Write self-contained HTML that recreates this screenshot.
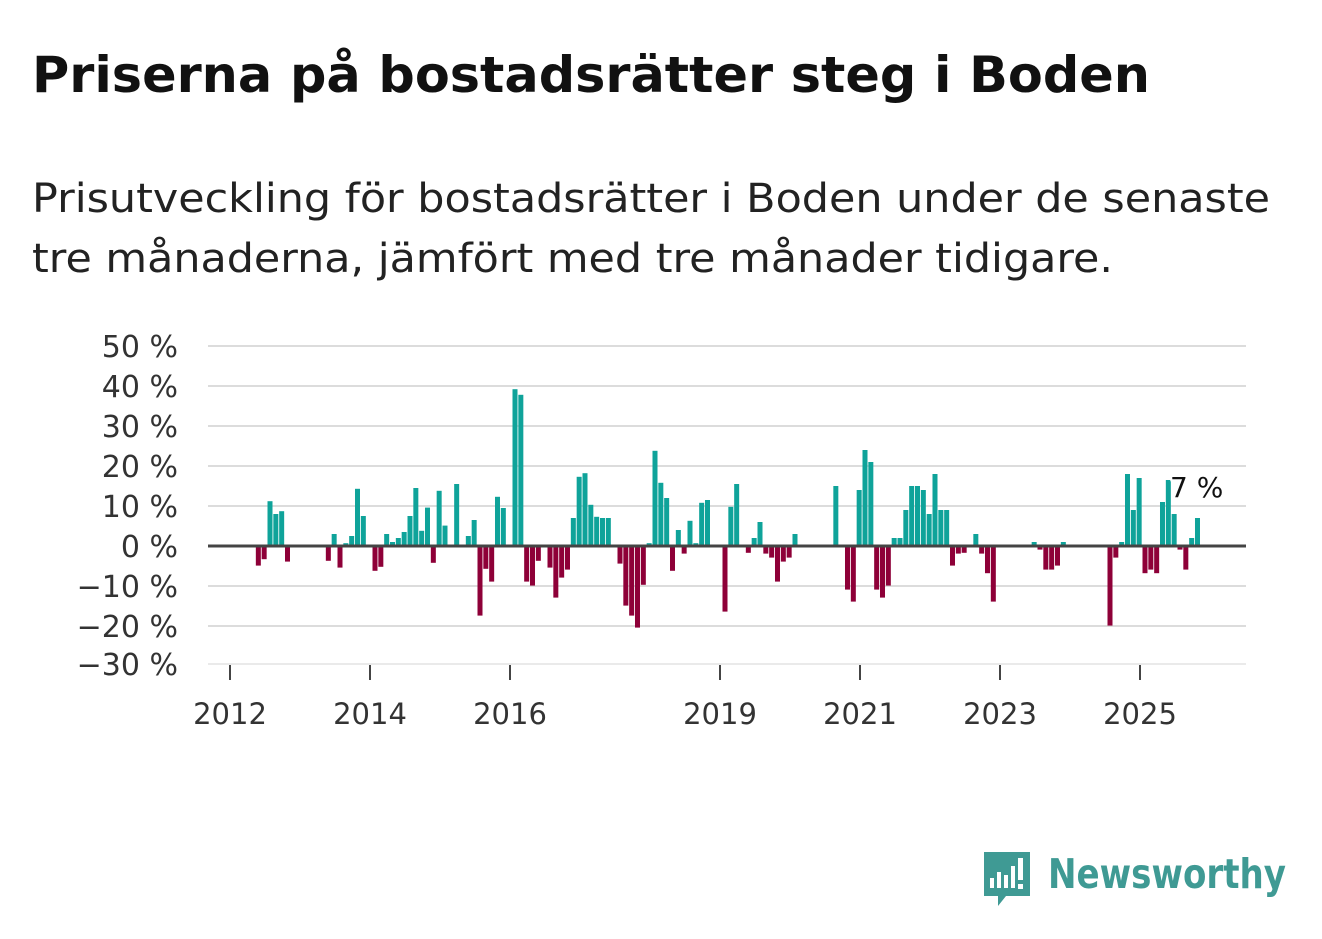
<!DOCTYPE html>
<html><head><meta charset="utf-8"><style>
body{margin:0;background:#fff;width:1322px;height:939px;overflow:hidden;font-family:"DejaVu Sans","Liberation Sans",sans-serif;}
svg{position:absolute;left:0;top:0;}
</style></head><body>
<svg width="1322" height="939" font-family="DejaVu Sans, Liberation Sans, sans-serif">
<text x="32" y="92" font-size="50" font-weight="bold" fill="#111" textLength="1118" lengthAdjust="spacingAndGlyphs">Priserna på bostadsrätter steg i Boden</text>
<text x="32" y="212" font-size="40" fill="#222" textLength="1238" lengthAdjust="spacingAndGlyphs">Prisutveckling för bostadsrätter i Boden under de senaste</text>
<text x="32" y="272" font-size="40" fill="#222" textLength="1081" lengthAdjust="spacingAndGlyphs">tre månaderna, jämfört med tre månader tidigare.</text>
</svg>
<svg id="chart" width="1322" height="939" font-family="DejaVu Sans, Liberation Sans, sans-serif"></svg>
<script>
const yTicks=[50,40,30,20,10,0,-10,-20,-30];
const xYears=[2012,2014,2016,2019,2021,2023,2025];
const barMonths=[4,5,6,7,8,9,16,17,18,19,20,21,22,24,25,26,27,28,29,30,31,32,33,34,35,36,38,40,41,42,43,44,45,46,48,49,50,51,52,54,55,56,57,58,59,60,61,62,63,64,66,67,68,69,70,71,72,73,74,75,76,77,78,79,80,81,84,85,86,88,89,90,91,92,93,94,95,96,103,105,106,107,108,109,110,111,112,113,114,115,116,117,118,119,120,121,122,123,124,125,127,128,129,130,137,138,139,140,141,142,150,151,152,153,154,155,156,157,158,159,160,161,162,163,164,165];
const barValues=[-4.9,-3.3,11.2,8,8.7,-3.9,-3.7,3,-5.4,0.7,2.5,14.3,7.5,-6.2,-5.2,3,1,2,3.5,7.5,14.5,3.8,9.6,-4.2,13.8,5.1,15.5,2.5,6.5,-17.4,-5.7,-8.9,12.3,9.5,39.2,37.8,-8.9,-9.9,-3.7,-5.4,-12.9,-7.9,-5.9,7,17.3,18.2,10.3,7.3,7,7,-4.4,-14.9,-17.4,-20.4,-9.7,0.7,23.8,15.8,12,-6.2,4,-1.9,6.3,0.7,10.8,11.5,-16.4,9.8,15.5,-1.7,2,6,-1.9,-2.9,-8.9,-3.9,-2.9,3,15,-10.9,-13.9,14,24,21,-10.9,-12.9,-9.9,2,2,9,15,15,14,8,18,9,9,-4.9,-1.9,-1.7,3,-1.9,-6.8,-13.9,1,-0.9,-5.9,-5.9,-4.9,1,-19.9,-2.9,1,18,9,17,-6.8,-5.9,-6.8,11,16.5,8,-0.9,-5.9,2,7];
const lastLabel="7 %";
const svg=document.getElementById('chart');
const NS='http://www.w3.org/2000/svg';
function y(v){return 546-v*4;}
function xm(m){return 230+m*5.8333;}
function xYear(yr){return 230+(yr-2012)*70;}
function mk(t,a){const e=document.createElementNS(NS,t);for(const k in a)e.setAttribute(k,a[k]);svg.appendChild(e);return e;}
yTicks.forEach(v=>{
  if(v!==0&&v!==-30){const g=mk('line',{x1:208,x2:1246,y1:y(v),y2:y(v),stroke:'#dcdcdc','stroke-width':2});
  
  }
  const t=mk('text',{x:178,y:Math.min(y(v),664)+11,'text-anchor':'end','font-size':30,fill:'#333'});
  t.textContent=(v<0?'\u2212'+(-v):v)+' %';
  
  
});
const bl=mk('line',{x1:208,x2:1246,y1:664,y2:664,stroke:'#e3e3e3','stroke-width':1.5});


xYears.forEach(yr=>{
  const tk=mk('line',{x1:xYear(yr),x2:xYear(yr),y1:665,y2:680,stroke:'#444','stroke-width':2});
  
  
  const t=mk('text',{x:xYear(yr),y:724,'text-anchor':'middle','font-size':29,fill:'#333'});
  t.textContent=yr;
  
  
});
barMonths.forEach((m,i)=>{
  const v=barValues[i];
  const r=mk('rect',{x:xm(m)+2.5,width:5,y:Math.min(y(v),546),height:Math.abs(y(v)-546),fill:v>=0?'#0fa39a':'#8e0038'});
  
  
});
const zl=mk('line',{x1:208,x2:1246,y1:546,y2:546,stroke:'#444','stroke-width':3});


const ll=mk('text',{x:1170,y:497,'font-size':28,fill:'#111',stroke:'#fff','stroke-width':4,'paint-order':'stroke'});
ll.textContent=lastLabel;


</script>
<svg width="1322" height="939" style="pointer-events:none">
<path d="M984 852 h46 v44 h-24 l-8 10 v-10 h-14 z" fill="#3f9a94"/>
<rect x="990" y="878" width="4" height="10" fill="#fff"/><rect x="997" y="872" width="4" height="16" fill="#fff"/>
<rect x="1004" y="875" width="4" height="13" fill="#fff"/><rect x="1011" y="866" width="4" height="22" fill="#fff"/>
<rect x="1018" y="858" width="5" height="22" fill="#fff"/><rect x="1018" y="884" width="5" height="5" fill="#fff"/>
<text x="1048" y="888" font-size="41" font-weight="bold" fill="#3f9a94" font-family="DejaVu Sans, Liberation Sans, sans-serif" textLength="238" lengthAdjust="spacingAndGlyphs">Newsworthy</text>
</svg>
</body></html>
